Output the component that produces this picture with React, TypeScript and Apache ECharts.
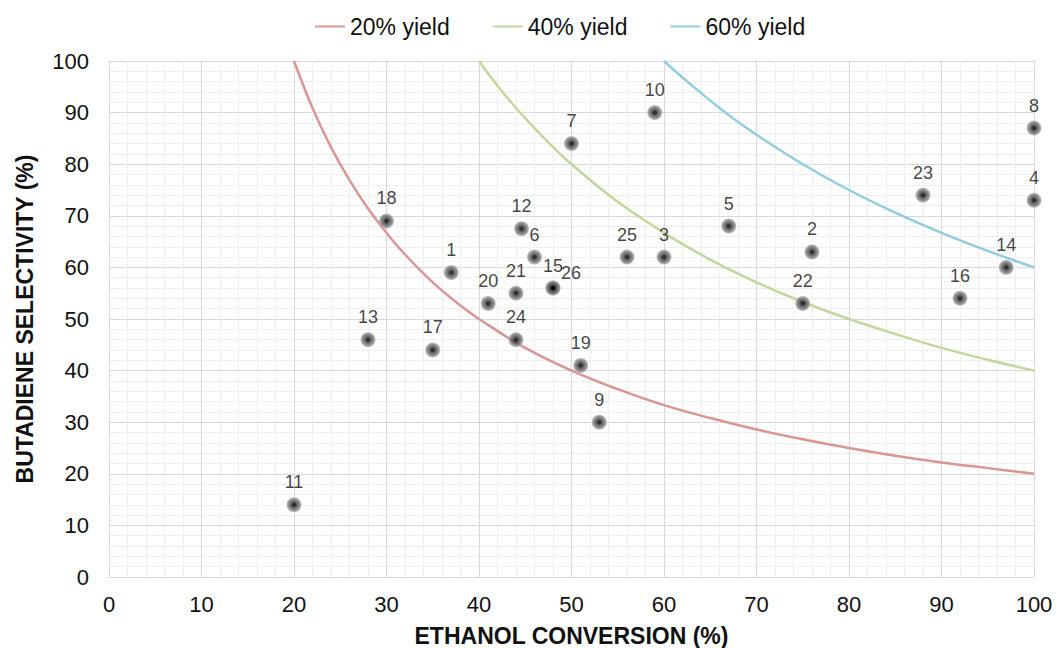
import React, { useEffect, useRef } from "react";
import * as echarts from "echarts";

// Catalyst test runs: ethanol conversion (%) vs butadiene selectivity (%)
const runIds = [
  "1", "2", "3", "4", "5", "6", "7", "8", "9", "10", "11", "12", "13",
  "14", "15", "16", "17", "18", "19", "20", "21", "22", "23", "24", "25", "26",
];
const conversion = [
  37, 76, 60, 100, 67, 46, 50, 100, 53, 59, 20, 44.6, 28,
  97, 48, 92, 35, 30, 51, 41, 44, 75, 88, 44, 56, 48,
];
const selectivity = [
  59, 63, 62, 73, 68, 62, 84, 87, 30, 90, 14, 67.5, 46,
  60, 56, 54, 44, 69, 41, 53, 55, 53, 74, 46, 62, 56,
];

// Iso-yield curves (yield = conversion x selectivity)
const yield20X = [20, 22, 24, 26, 28, 30, 32, 35, 38, 40, 45, 50, 55, 60, 65, 70, 75, 80, 85, 90, 95, 100];
const yield20Y = [100, 90.9, 83.3, 76.9, 71.4, 66.7, 62.5, 57.1, 52.6, 50, 44.4, 40, 36.4, 33.3, 30.8, 28.6, 26.7, 25, 23.5, 22.2, 21.1, 20];
const yield40X = [40, 42, 44, 46, 48, 50, 55, 60, 65, 70, 75, 80, 85, 90, 95, 100];
const yield40Y = [100, 95.2, 90.9, 87.0, 83.3, 80, 72.7, 66.7, 61.5, 57.1, 53.3, 50, 47.1, 44.4, 42.1, 40];
const yield60X = [60, 62, 64, 66, 68, 70, 75, 80, 85, 90, 95, 100];
const yield60Y = [100, 96.8, 93.8, 90.9, 88.2, 85.7, 80, 75, 70.6, 66.7, 63.2, 60];

const curveNames = ["20% yield", "40% yield", "60% yield"];
const curveColors = ["#d99694", "#c3d69b", "#93cddd"];

const axisTicks = [0, 10, 20, 30, 40, 50, 60, 70, 80, 90, 100];

const FONT = "'Liberation Sans', Arial, sans-serif";

// label nudges for runs that share a position
const labelOffsets: Record<string, [number, number]> = { "26": [18, 7] };

export default function App() {
  const ref = useRef<HTMLDivElement>(null);

  useEffect(() => {
    if (!ref.current) return;
    const chart = echarts.init(ref.current, undefined, { renderer: "svg" });

    const zip = (xs: number[], ys: number[]) => xs.map((x, i) => [x, ys[i]]);
    const curves = [zip(yield20X, yield20Y), zip(yield40X, yield40Y), zip(yield60X, yield60Y)];

    const sphere = new echarts.graphic.RadialGradient(0.5, 0.5, 0.5, [
      { offset: 0, color: "#000000" },
      { offset: 0.22, color: "#000000" },
      { offset: 0.36, color: "#3a3a3a" },
      { offset: 0.7, color: "#6e6e6e" },
      { offset: 1, color: "#b5b5b5" },
    ]);

    const points = runIds.map((id, i) => {
      const item: any = { name: id, value: [conversion[i], selectivity[i]] };
      if (labelOffsets[id]) item.label = { offset: labelOffsets[id] };
      return item;
    });

    const axisCommon = {
      type: "value" as const,
      min: axisTicks[0],
      max: axisTicks[axisTicks.length - 1],
      interval: 10,
      axisLine: { show: true, lineStyle: { color: "#d9d9d9", width: 1 } },
      axisTick: { show: false },
      axisLabel: { color: "#111", fontSize: 22, fontFamily: FONT },
      splitLine: { show: true, lineStyle: { color: "#d9d9d9", width: 1 } },
      minorTick: { show: false, splitNumber: 5 },
      minorSplitLine: { show: true, lineStyle: { color: "#efefef", width: 1 } },
      nameLocation: "middle" as const,
      nameTextStyle: { color: "#111", fontSize: 23, fontWeight: "bold" as const, fontFamily: FONT },
    };

    chart.setOption({
      animation: false,
      backgroundColor: "#ffffff",
      textStyle: { fontFamily: FONT },
      grid: { left: 109, right: 22, top: 61, bottom: 71, outerBoundsMode: "none", containLabel: false },
      legend: {
        data: curveNames,
        top: 10,
        left: 310,
        itemWidth: 30,
        itemHeight: 2,
        itemGap: 43,
        icon: "rect",
        textStyle: { color: "#111", fontSize: 23, fontFamily: FONT },
      },
      xAxis: {
        ...axisCommon,
        name: "ETHANOL CONVERSION (%)",
        nameGap: 47,
        axisLabel: { ...axisCommon.axisLabel, margin: 16 },
      },
      yAxis: {
        ...axisCommon,
        name: "BUTADIENE SELECTIVITY (%)",
        nameGap: 73,
        axisLabel: { ...axisCommon.axisLabel, margin: 20 },
      },
      series: [
        ...curves.map((data, k) => ({
          type: "line",
          name: curveNames[k],
          data,
          smooth: 0.4,
          symbol: "none",
          lineStyle: { color: curveColors[k], width: 2.5 },
          itemStyle: { color: curveColors[k] },
          z: 2,
        })),
        {
          type: "scatter",
          data: points,
          symbol: "circle",
          symbolSize: 15,
          itemStyle: { color: sphere },
          label: {
            show: true,
            position: "top",
            distance: 6,
            formatter: (p: any) => p.name,
            color: "#111",
            fontSize: 18,
            fontFamily: FONT,
          },
          z: 3,
        },
      ],
    });

    return () => chart.dispose();
  }, []);

  return (
    <div
      style={{
        position: "fixed",
        left: 0,
        top: 0,
        width: 1056,
        height: 648,
        overflow: "hidden",
        background: "#ffffff",
      }}
    >
      <div ref={ref} style={{ width: 1056, height: 648 }} />
    </div>
  );
}
